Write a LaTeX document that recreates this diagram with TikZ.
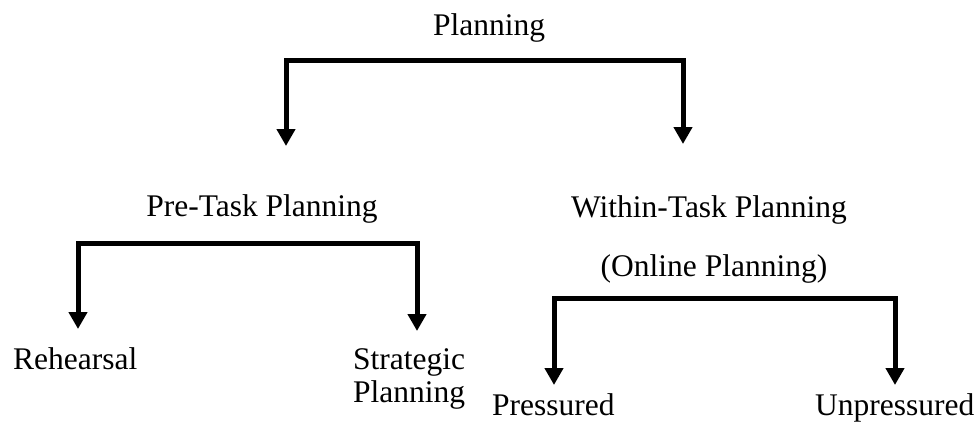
\documentclass[tikz,border=0pt]{standalone}
\usepackage{fontspec}
\setmainfont{Liberation Serif}
\usetikzlibrary{arrows.meta}
\begin{document}
\begin{tikzpicture}[x=1pt,y=-1pt,
  lbl/.style={inner sep=0pt,font=\fontsize{31.5}{32}\selectfont},
  conn/.style={line width=5pt,{Triangle[width=18pt,length=17pt]}-{Triangle[width=18pt,length=17pt]}}]
\useasboundingbox (0,0) rectangle (978,431);
% text nodes
\node[lbl,anchor=base] (plan) at (489,35) {Planning};
\node[lbl,anchor=base] (pre) at (262,216) {Pre-Task Planning};
\node[lbl,anchor=base] (within) at (709,217) {Within-Task Planning};
\node[lbl,anchor=base] (online) at (714,276) {(Online Planning)};
\node[lbl,anchor=base west] (reh) at (13,369) {Rehearsal};
\node[lbl,anchor=base west] (strat) at (353,369) {Strategic};
\node[lbl,anchor=base west] (stratb) at (353,402) {Planning};
\node[lbl,anchor=base west] (press) at (492,415) {Pressured};
\node[lbl,anchor=base west] (unpress) at (815,415) {Unpressured};
% bracket coordinates
\coordinate (t1) at (286,146);
\coordinate (t2) at (683,144);
\coordinate (tm) at (489,60);
\coordinate (p1) at (78,329);
\coordinate (p2) at (417,331);
\coordinate (pm) at (262,243);
\coordinate (o1) at (554,385);
\coordinate (o2) at (895,385);
\coordinate (om) at (714,298);
% connectors
\draw[conn] (t1) |- (tm) -| (t2);
\draw[conn] (p1) |- (pm) -| (p2);
\draw[conn] (o1) |- (om) -| (o2);
\end{tikzpicture}
\end{document}
